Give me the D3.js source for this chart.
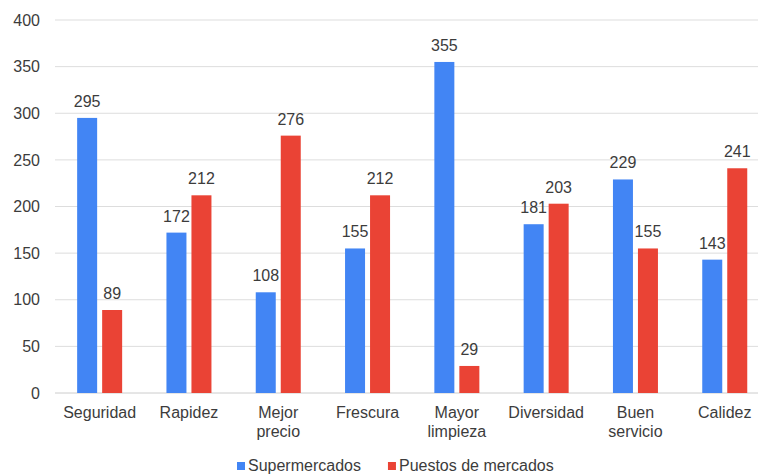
<!DOCTYPE html>
<html>
<head>
<meta charset="utf-8">
<script src="https://cdn.jsdelivr.net/npm/d3@7"></script>
<style>
  html, body { margin: 0; padding: 0; background: #fff; }
  svg { display: block; font-family: "Liberation Sans", Arial, Helvetica, sans-serif; }
</style>
</head>
<body>
<svg id="chart" width="758" height="474"></svg>
<script>
const categories = ["Seguridad", "Rapidez", "Mejor\nprecio", "Frescura", "Mayor\nlimpieza", "Diversidad", "Buen\nservicio", "Calidez"];
const seriesNames = ["Supermercados", "Puestos de mercados"];
const supermercados = [295, 172, 108, 155, 355, 181, 229, 143];
const puestos = [89, 212, 276, 212, 29, 203, 155, 241];
const yTicks = [0, 50, 100, 150, 200, 250, 300, 350, 400];
const colors = ["#4285F4", "#EA4335"];

const svg = d3.select("#chart");
const textColor = "#3c3c3c";
const fontSize = 16;

const x = d3.scaleBand().domain(categories).range([55, 769.4]).padding(0);
const sub = d3.scaleBand().domain(seriesNames).range([x.bandwidth() / 2 - 22.5, x.bandwidth() / 2 + 22.5]).paddingInner(0.2);
const y = d3.scaleLinear().domain([0, 400]).range([393, 20]);

// horizontal gridlines
svg.append("g").selectAll("line").data(yTicks).join("line")
  .attr("x1", 55).attr("x2", 758)
  .attr("y1", d => y(d)).attr("y2", d => y(d))
  .attr("stroke", d => d === 0 ? "#ccc" : "#ddd").attr("stroke-width", 1);

// y axis labels
const yAxis = d3.axisLeft(y).tickValues(yTicks).tickSize(0).tickPadding(0);
const yg = svg.append("g").attr("transform", "translate(40,0)").call(yAxis);
yg.select(".domain").remove();
yg.selectAll("text").attr("font-size", fontSize).attr("fill", textColor)
  .attr("font-family", "Liberation Sans, Arial, sans-serif");

// bars
const rows = categories.map((c, i) => ({ c, vals: [supermercados[i], puestos[i]] }));
const groups = svg.append("g").selectAll("g").data(rows).join("g")
  .attr("transform", d => `translate(${x(d.c)},0)`);

groups.selectAll("rect").data(d => d.vals.map((v, k) => ({ k, v }))).join("rect")
  .attr("x", d => sub(seriesNames[d.k]))
  .attr("width", sub.bandwidth())
  .attr("y", d => y(d.v))
  .attr("height", d => y(0) - y(d.v))
  .attr("fill", d => colors[d.k]);

groups.selectAll("text.val").data(d => d.vals.map((v, k) => ({ k, v }))).join("text")
  .attr("class", "val")
  .attr("x", d => sub(seriesNames[d.k]) + sub.bandwidth() / 2)
  .attr("y", d => y(d.v) - 11)
  .attr("text-anchor", "middle")
  .attr("font-size", fontSize)
  .attr("fill", textColor)
  .text(d => d.v);

// category labels
const xg = svg.append("g");
categories.forEach(c => {
  const cx = x(c) + x.bandwidth() / 2;
  const t = xg.append("text")
    .attr("x", cx)
    .attr("y", 418)
    .attr("text-anchor", "middle")
    .attr("font-size", fontSize)
    .attr("fill", textColor);
  c.split("\n").forEach((line, i) => {
    t.append("tspan").attr("x", cx).attr("dy", i === 0 ? 0 : 19).text(line);
  });
});

// legend
const lg = svg.append("g");
let lx = 237;
seriesNames.forEach((name, k) => {
  lg.append("rect").attr("x", lx).attr("y", 462).attr("width", 8).attr("height", 8).attr("fill", colors[k]);
  const t = lg.append("text").attr("x", lx + 11).attr("y", 471)
    .attr("font-size", fontSize).attr("fill", textColor).text(name);
  lx += 11 + t.node().getComputedTextLength() + 27;
});
</script>
</body>
</html>
